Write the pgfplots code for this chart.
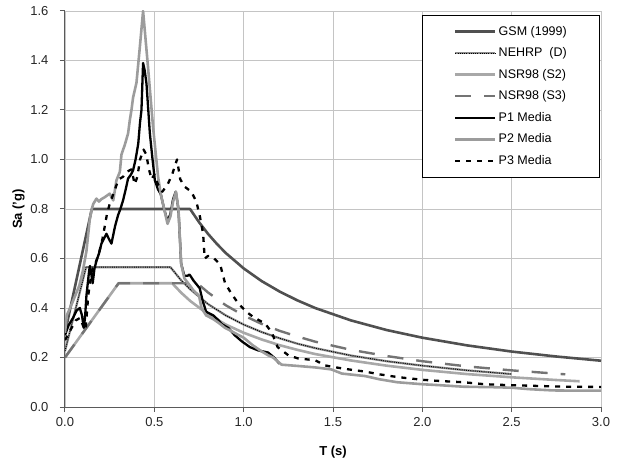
\documentclass[border=0pt]{standalone}
\usepackage{pgfplots}
\pgfplotsset{compat=1.18}
\usepackage{fontspec}
\setmainfont{Liberation Sans}
\definecolor{gsm}{HTML}{505050}
\definecolor{s2}{HTML}{A8A8A8}
\definecolor{s3}{HTML}{747474}
\definecolor{p2}{HTML}{9C9C9C}
\definecolor{axl}{HTML}{5A5A5A}
\definecolor{grd}{HTML}{C4C4C4}
\begin{document}
\fontsize{13}{15}\selectfont
\begin{tikzpicture}
\begin{axis}[
  scale only axis, width=536pt, height=396pt,
  xmin=0, xmax=3, ymin=0, ymax=1.6,
  xtick={0,0.5,...,3.0}, ytick={0,0.2,...,1.6},
  axis x line*=bottom, axis y line*=left,
  axis line style={axl, line width=1pt},
  every axis plot/.append style={line join=round},
  grid=major, major grid style={grd, line width=0.8pt},
  tick align=outside, major tick length=5pt,
  tick style={axl, line width=1pt},
  /pgf/number format/.cd, fixed, fixed zerofill, precision=1, assume math mode=true,
  /pgfplots/.cd,
  ticklabel style={font=\fontsize{13}{15}\selectfont, text=black!85},
  yticklabel style={xshift=-7pt},
  xticklabel style={yshift=-1pt},
  xlabel={\textbf{T (s)}}, ylabel={\textbf{Sa (’g)}},
  label style={font=\fontsize{13}{15}\selectfont},
  xlabel style={yshift=-10pt}, ylabel style={yshift=-3pt},
  legend cell align=left,
  legend style={at={(rel axis cs:1,1)}, anchor=north east, xshift=-29pt, yshift=-4pt,
    draw=none, fill=white, font=\fontsize{12.5}{14}\selectfont,
    row sep=6.5pt, inner xsep=3pt, inner ysep=9pt, name=leg},
  legend image code/.code={\draw[#1] (0pt,0pt) -- (40pt,0pt);},
]
% GSM (1999)
\addplot[gsm, line width=2.6pt] coordinates {
(0,0.30)(0.15,0.80)(0.70,0.80)(0.75,0.747)(0.80,0.70)(0.85,0.659)(0.90,0.622)(1.00,0.56)(1.10,0.509)(1.20,0.467)(1.30,0.431)(1.40,0.40)(1.60,0.35)(1.80,0.311)(2.00,0.28)(2.25,0.249)(2.50,0.224)(2.75,0.204)(3.00,0.187)};
\addlegendentry{GSM (1999)}
% NEHRP (D)
\addplot[black!45, line width=2.2pt, postaction={draw, black, line width=0.9pt, dash pattern=on 1pt off 1.2pt}] coordinates {
(0,0.226)(0.118,0.565)(0.59,0.565)(0.65,0.512)(0.70,0.476)(0.80,0.416)(0.90,0.37)(1.00,0.333)(1.10,0.303)(1.20,0.278)(1.30,0.256)(1.40,0.238)(1.60,0.208)(1.80,0.185)(2.00,0.167)(2.25,0.148)(2.50,0.133)};
\addlegendentry{NEHRP\ \ (D)}
% NSR98 (S2)
\addplot[s2, line width=2.6pt] coordinates {
(0,0.20)(0.30,0.50)(0.60,0.50)(0.65,0.462)(0.70,0.429)(0.80,0.375)(0.90,0.333)(1.00,0.30)(1.10,0.273)(1.20,0.25)(1.30,0.231)(1.40,0.214)(1.60,0.188)(1.80,0.167)(2.00,0.15)(2.25,0.133)(2.50,0.12)(2.75,0.109)(2.88,0.104)};
\addlegendentry{NSR98 (S2)}
% NSR98 (S3)
\addplot[s3, line width=2.4pt, dash pattern=on 16pt off 13pt] coordinates {
(0,0.20)(0.30,0.50)(0.74,0.50)(0.80,0.463)(0.90,0.411)(1.00,0.37)(1.10,0.336)(1.20,0.308)(1.30,0.285)(1.40,0.264)(1.60,0.231)(1.80,0.206)(2.00,0.185)(2.25,0.164)(2.50,0.148)(2.80,0.132)};
\addlegendentry{NSR98 (S3)}
% P1 Media
\addplot[black, line width=2.3pt] coordinates {
(0,0.29)(0.02,0.33)(0.045,0.36)(0.065,0.39)(0.083,0.40)(0.095,0.37)(0.105,0.32)(0.112,0.36)(0.12,0.45)(0.135,0.55)(0.14,0.57)(0.155,0.50)(0.165,0.56)(0.176,0.59)(0.19,0.62)(0.204,0.66)(0.218,0.68)(0.232,0.70)(0.245,0.68)(0.26,0.66)(0.28,0.73)(0.297,0.775)(0.31,0.80)(0.325,0.835)(0.34,0.88)(0.353,0.923)(0.37,0.94)(0.381,0.956)(0.395,1.0)(0.41,1.064)(0.42,1.15)(0.428,1.2)(0.437,1.39)(0.446,1.36)(0.456,1.307)(0.475,1.105)(0.49,1.0)(0.503,0.916)(0.52,0.88)(0.536,0.86)(0.555,0.80)(0.574,0.75)(0.59,0.78)(0.605,0.84)(0.62,0.87)(0.635,0.80)(0.65,0.58)(0.668,0.53)(0.685,0.53)(0.697,0.535)(0.72,0.51)(0.754,0.48)(0.77,0.43)(0.79,0.385)(0.83,0.37)(0.86,0.35)(0.877,0.335)(0.915,0.319)(0.95,0.29)(0.99,0.265)(1.035,0.242)(1.08,0.229)(1.137,0.22)(1.17,0.20)(1.20,0.175)};
\addlegendentry{P1 Media}
% P2 Media
\addplot[p2, line width=2.6pt] coordinates {
(0,0.30)(0.01,0.37)(0.04,0.42)(0.08,0.49)(0.10,0.55)(0.12,0.63)(0.139,0.76)(0.15,0.80)(0.158,0.82)(0.176,0.842)(0.19,0.83)(0.204,0.84)(0.223,0.848)(0.25,0.862)(0.27,0.835)(0.288,0.916)(0.307,0.95)(0.316,1.02)(0.335,1.06)(0.353,1.105)(0.363,1.16)(0.372,1.20)(0.381,1.25)(0.40,1.31)(0.419,1.455)(0.437,1.6)(0.465,1.37)(0.493,1.13)(0.521,0.93)(0.536,0.86)(0.555,0.80)(0.574,0.74)(0.59,0.77)(0.605,0.83)(0.621,0.87)(0.635,0.80)(0.65,0.58)(0.668,0.52)(0.70,0.49)(0.72,0.47)(0.75,0.45)(0.764,0.40)(0.79,0.37)(0.83,0.355)(0.86,0.34)(0.895,0.32)(0.923,0.31)(0.96,0.295)(1.0,0.28)(1.05,0.25)(1.10,0.225)(1.137,0.209)(1.165,0.20)(1.212,0.171)(1.30,0.166)(1.40,0.160)(1.49,0.152)(1.55,0.135)(1.68,0.125)(1.76,0.112)(1.86,0.10)(2.0,0.092)(2.1,0.088)(2.23,0.082)(2.4,0.080)(2.5,0.078)(2.6,0.072)(2.73,0.067)(2.85,0.066)(3.0,0.066)};
\addlegendentry{P2 Media}
% P3 Media
\addplot[black, line width=2.3pt, dash pattern=on 5pt off 6pt] coordinates {
(0,0.27)(0.03,0.31)(0.06,0.35)(0.085,0.36)(0.10,0.33)(0.115,0.31)(0.13,0.45)(0.15,0.55)(0.17,0.58)(0.19,0.62)(0.21,0.68)(0.235,0.78)(0.25,0.82)(0.28,0.88)(0.30,0.92)(0.325,0.93)(0.345,0.95)(0.372,0.96)(0.39,0.90)(0.405,0.93)(0.42,1.0)(0.44,1.04)(0.455,1.02)(0.47,0.96)(0.485,0.92)(0.50,0.94)(0.52,0.90)(0.545,0.87)(0.575,0.90)(0.60,0.94)(0.627,1.0)(0.645,0.92)(0.67,0.89)(0.707,0.87)(0.735,0.83)(0.755,0.77)(0.773,0.70)(0.782,0.60)(0.80,0.61)(0.82,0.61)(0.868,0.577)(0.896,0.50)(0.93,0.46)(0.97,0.418)(1.016,0.384)(1.053,0.364)(1.12,0.337)(1.156,0.303)(1.19,0.242)(1.25,0.209)(1.305,0.196)(1.40,0.189)(1.455,0.168)(1.557,0.155)(1.68,0.143)(1.76,0.132)(1.86,0.121)(2.0,0.11)(2.1,0.105)(2.23,0.10)(2.35,0.092)(2.5,0.088)(2.65,0.085)(2.8,0.082)(3.0,0.081)};
\addlegendentry{P3 Media}
\end{axis}
\fill[white] ([xshift=-28pt]leg.south west) rectangle ([xshift=0.5pt]leg.north west);
\fill[white] ([xshift=-0.5pt]leg.south east) rectangle ([xshift=27pt]leg.north east);
\draw[black, line width=0.9pt] ([xshift=-28pt]leg.south west) rectangle ([xshift=27pt]leg.north east);
\pgfresetboundingbox
\path[use as bounding box] ([xshift=-65pt,yshift=-56pt]current axis.south west) rectangle ([xshift=19pt,yshift=11pt]current axis.north east);
\end{tikzpicture}
\end{document}
